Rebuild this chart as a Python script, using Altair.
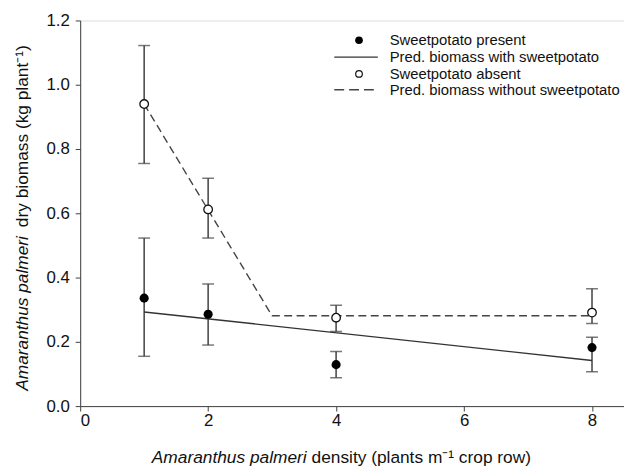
import altair as alt
import pandas as pd

# ---- data ----
density = [1, 2, 4, 8]
present_mean = [0.336, 0.286, 0.129, 0.182]
present_lo = [0.155, 0.190, 0.088, 0.107]
present_hi = [0.523, 0.380, 0.170, 0.214]
absent_mean = [0.940, 0.612, 0.275, 0.291]
absent_lo = [0.755, 0.523, 0.232, 0.257]
absent_hi = [1.122, 0.709, 0.314, 0.365]

pred_with_x = [1, 8]
pred_with_y = [0.293, 0.142]
pred_without_x = [1, 3, 8]
pred_without_y = [0.940, 0.281, 0.281]

x_ticks = [0, 2, 4, 6, 8]
y_ticks = [0.0, 0.2, 0.4, 0.6, 0.8, 1.0, 1.2]

legend_labels = ["Sweetpotato present", "Pred. biomass with sweetpotato",
                 "Sweetpotato absent", "Pred. biomass without sweetpotato"]

FONT = "Liberation Sans"
AX = "#404040"
TXT = "#111111"
W, H = 550, 390

pres = pd.DataFrame({"x": density, "y": present_mean, "lo": present_lo, "hi": present_hi})
absn = pd.DataFrame({"x": density, "y": absent_mean, "lo": absent_lo, "hi": absent_hi})
pw = pd.DataFrame({"x": pred_with_x, "y": pred_with_y})
pwo = pd.DataFrame({"x": pred_without_x, "y": pred_without_y})

xs = alt.Scale(domain=[0, 8.5], nice=False, zero=False)
ys = alt.Scale(domain=[0, 1.2], nice=False)

xenc = alt.X("x:Q", scale=xs, axis=alt.Axis(
    values=x_ticks, format="d", title=None, grid=False, domainColor=AX,
    tickColor=AX, tickSize=5, labelFontSize=17, labelFont=FONT, labelColor=TXT,
    labelPadding=2))
yenc = alt.Y("y:Q", scale=ys, axis=alt.Axis(
    values=y_ticks, format=".1f", title=None, grid=False, domainColor=AX,
    tickColor=AX, tickSize=5, labelFontSize=17, labelFont=FONT, labelColor=TXT,
    labelPadding=6))


def errbars(df):
    base = alt.Chart(df)
    rule = base.mark_rule(color=AX, strokeWidth=1.5).encode(
        x=alt.X("x:Q", scale=xs), y=alt.Y("lo:Q", scale=ys), y2="hi:Q")
    cap_lo = base.mark_tick(color=AX, orient="horizontal", size=12, thickness=1.5).encode(
        x=alt.X("x:Q", scale=xs), y=alt.Y("lo:Q", scale=ys))
    cap_hi = base.mark_tick(color=AX, orient="horizontal", size=12, thickness=1.5).encode(
        x=alt.X("x:Q", scale=xs), y=alt.Y("hi:Q", scale=ys))
    return rule + cap_lo + cap_hi


axes_layer = alt.Chart(pres).mark_point(opacity=0).encode(x=xenc, y=yenc)

line_with = alt.Chart(pw).mark_line(color="#333333", strokeWidth=1.4).encode(
    x=alt.X("x:Q", scale=xs), y=alt.Y("y:Q", scale=ys))
line_without = alt.Chart(pwo).mark_line(color="#444444", strokeWidth=1.4,
                                        strokeDash=[8, 4.5]).encode(
    x=alt.X("x:Q", scale=xs), y=alt.Y("y:Q", scale=ys))

pts_present = alt.Chart(pres).mark_point(filled=True, color="black", size=85, opacity=1).encode(
    x=alt.X("x:Q", scale=xs), y=alt.Y("y:Q", scale=ys))
pts_absent = alt.Chart(absn).mark_point(shape="circle", fill="white", stroke="#111111",
                                        strokeWidth=1.3, size=75, opacity=1,
                                        fillOpacity=1).encode(
    x=alt.X("x:Q", scale=xs), y=alt.Y("y:Q", scale=ys))

# ---- legend (annotation, pixel placement) ----
lg_rows = [20, 37, 54, 70]
lg_sym_x, lg_line_x0, lg_line_x1, lg_text_x = 282, 257, 301, 313
anno = alt.Chart(pd.DataFrame({"d": [0]}))
legend = (
    anno.mark_point(filled=True, color="black", size=60, opacity=1).encode(
        x=alt.value(lg_sym_x), y=alt.value(lg_rows[0]))
    + anno.mark_rule(color="#333333", strokeWidth=1.4).encode(
        x=alt.value(lg_line_x0), x2=alt.value(lg_line_x1), y=alt.value(lg_rows[1]))
    + anno.mark_point(shape="circle", fill="white", stroke="#111111", strokeWidth=1.2,
                      size=45, opacity=1).encode(x=alt.value(lg_sym_x), y=alt.value(lg_rows[2]))
    + anno.mark_rule(color="#444444", strokeWidth=1.4, strokeDash=[10, 5]).encode(
        x=alt.value(lg_line_x0), x2=alt.value(lg_line_x1), y=alt.value(lg_rows[3]))
)
for lbl, ry in zip(legend_labels, lg_rows):
    legend = legend + anno.mark_text(align="left", baseline="middle", font=FONT,
                                     fontSize=15, color=TXT).encode(
        x=alt.value(lg_text_x), y=alt.value(ry), text=alt.value(lbl))

# ---- axis titles with italic species name ----
TF = 17.5
xb, xty = 229, 443
x_title = (
    anno.mark_text(align="right", baseline="middle", font=FONT, fontSize=TF,
                   fontStyle="italic", color=TXT).encode(
        x=alt.value(xb), y=alt.value(xty), text=alt.value("Amaranthus palmeri"))
    + anno.mark_text(align="left", baseline="middle", font=FONT, fontSize=TF,
                     color=TXT).encode(
        x=alt.value(xb + 5), y=alt.value(xty),
        text=alt.value("density (plants m\u207b\u00b9 crop row)"))
)
ytx, yb = -58, 218
y_title = (
    anno.mark_text(align="right", baseline="middle", angle=270, font=FONT, fontSize=TF,
                   fontStyle="italic", color=TXT).encode(
        x=alt.value(ytx), y=alt.value(yb), text=alt.value("Amaranthus palmeri"))
    + anno.mark_text(align="left", baseline="middle", angle=270, font=FONT, fontSize=TF,
                     color=TXT).encode(
        x=alt.value(ytx), y=alt.value(yb - 9),
        text=alt.value("dry biomass (kg plant\u207b\u00b9)"))
)

chart = alt.layer(
    axes_layer, errbars(pres), errbars(absn), line_with, line_without,
    pts_present, pts_absent, legend, x_title, y_title
).properties(
    width=W, height=H, padding={"left": 5, "top": 1, "right": 0, "bottom": 0}
).configure_view(stroke=AX, strokeWidth=1.2).configure(background="white")

chart.save("out.html", embed_options={"renderer": "svg", "actions": False})
